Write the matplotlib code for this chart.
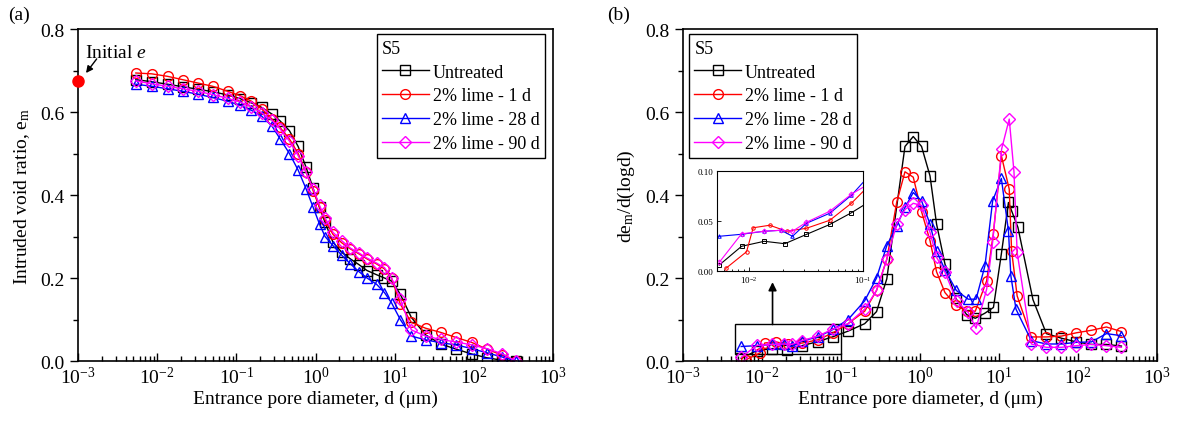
import numpy as np
import matplotlib
matplotlib.use("Agg")
import matplotlib.pyplot as plt
from matplotlib.ticker import LogLocator, MultipleLocator, NullFormatter, FixedLocator, LogFormatterSciNotation
from matplotlib.patches import Rectangle

plt.rcParams['font.family'] = ['Liberation Serif', 'DejaVu Serif']
plt.rcParams['mathtext.fontset'] = 'custom'
plt.rcParams['mathtext.rm'] = 'Liberation Serif'
plt.rcParams['mathtext.it'] = 'Liberation Serif:italic'
plt.rcParams['font.size'] = 14

labels = ['Untreated', '2% lime - 1 d', '2% lime - 28 d', '2% lime - 90 d']
colors = ['black', 'red', 'blue', 'magenta']
markers = ['s', 'o', '^', 'D']

# ---- (a) intruded void ratio ----
d_a = [0.00537, 0.00851, 0.01349, 0.02089, 0.03236, 0.05012, 0.07762, 0.1122, 0.1549,
       0.2089, 0.2818, 0.3548, 0.4677, 0.6026, 0.7586, 0.9333, 1.122, 1.318, 1.660,
       2.138, 2.754, 3.548, 4.467, 5.888, 7.413, 9.120, 11.75, 16.22, 24.55, 38.02,
       58.88, 93.33, 144.5, 223.9, 338.8]
em_untreated = [0.678, 0.673, 0.667, 0.661, 0.655, 0.649, 0.641, 0.632, 0.622, 0.611,
                0.595, 0.579, 0.555, 0.517, 0.467, 0.416, 0.370, 0.334, 0.286, 0.262,
                0.246, 0.232, 0.218, 0.208, 0.200, 0.193, 0.161, 0.105, 0.063, 0.041,
                0.029, 0.017, 0.008, 0.002, 0.0]
em_1d = [0.694, 0.692, 0.686, 0.678, 0.670, 0.662, 0.650, 0.639, 0.626, 0.607, 0.583,
         0.563, 0.535, 0.500, 0.455, 0.410, 0.370, 0.340, 0.305, 0.285, 0.270, 0.258,
         0.246, 0.234, 0.222, 0.200, 0.137, 0.093, 0.079, 0.069, 0.057, 0.045, 0.029,
         0.0145, 0.0]
em_28d = [0.667, 0.662, 0.656, 0.650, 0.643, 0.635, 0.626, 0.616, 0.604, 0.590, 0.566,
          0.536, 0.500, 0.460, 0.415, 0.370, 0.330, 0.300, 0.278, 0.255, 0.234, 0.215,
          0.200, 0.185, 0.165, 0.140, 0.100, 0.060, 0.051, 0.044, 0.039, 0.030, 0.020,
          0.010, 0.0]
em_90d = [0.675, 0.668, 0.662, 0.656, 0.650, 0.642, 0.633, 0.624, 0.612, 0.598, 0.580,
          0.560, 0.530, 0.495, 0.455, 0.415, 0.375, 0.345, 0.310, 0.290, 0.272, 0.260,
          0.248, 0.236, 0.225, 0.200, 0.150, 0.075, 0.060, 0.052, 0.046, 0.039, 0.030,
          0.018, 0.0]
initial_e = 0.675

# ---- (b) pore size distribution ----
d_b_untreated = [0.00546, 0.00857, 0.01355, 0.02056, 0.03184, 0.05105, 0.07907, 0.1230,
                 0.1995, 0.2818, 0.3802, 0.6457, 0.8222, 1.047, 1.340, 1.622, 2.070,
                 2.818, 3.890, 5.012, 6.607, 8.511, 10.72, 13.18, 14.45, 17.38, 26.92,
                 39.81, 61.66, 95.50, 147.9, 229.1, 354.8]
psd_untreated = [0.0063, 0.025, 0.030, 0.0276, 0.0369, 0.0468, 0.0585, 0.072, 0.090,
                 0.119, 0.198, 0.517, 0.541, 0.517, 0.446, 0.330, 0.234, 0.152, 0.112,
                 0.103, 0.115, 0.129, 0.258, 0.382, 0.362, 0.322, 0.148, 0.066, 0.055,
                 0.046, 0.040, 0.040, 0.036]
d_b_1d = [0.00624, 0.00948, 0.01084, 0.01514, 0.02138, 0.03184, 0.05105, 0.07907, 0.1230,
          0.1995, 0.2818, 0.3802, 0.5070, 0.6457, 0.8222, 1.047, 1.340, 1.622, 2.070,
          2.818, 3.890, 5.012, 6.982, 8.472, 10.72, 13.49, 14.45, 16.98, 25.70, 39.81,
          61.66, 95.50, 147.9, 229.1, 354.8]
psd_1d = [0.003, 0.0196, 0.0435, 0.046, 0.040, 0.043, 0.051, 0.068, 0.090, 0.120, 0.170,
          0.245, 0.382, 0.456, 0.443, 0.360, 0.290, 0.215, 0.165, 0.135, 0.120, 0.120,
          0.193, 0.306, 0.495, 0.414, 0.266, 0.157, 0.058, 0.058, 0.060, 0.068, 0.074,
          0.082, 0.071]
d_b_28d = [0.00546, 0.00857, 0.01355, 0.01905, 0.02399, 0.03184, 0.05105, 0.07907, 0.1230,
           0.1995, 0.2818, 0.3802, 0.5070, 0.6457, 0.8222, 1.047, 1.340, 1.622, 2.070,
           2.884, 4.074, 5.129, 6.653, 8.318, 10.72, 13.18, 14.13, 16.41, 25.70, 39.81,
           61.66, 95.50, 147.9, 229.1, 354.8]
psd_28d = [0.035, 0.037, 0.040, 0.041, 0.035, 0.048, 0.058, 0.076, 0.100, 0.145, 0.200,
           0.278, 0.326, 0.370, 0.406, 0.386, 0.330, 0.265, 0.220, 0.170, 0.149, 0.149,
           0.230, 0.386, 0.440, 0.314, 0.206, 0.125, 0.049, 0.041, 0.041, 0.045, 0.046,
           0.066, 0.061]
d_b_90d = [0.00546, 0.00857, 0.01355, 0.01905, 0.02399, 0.03184, 0.05105, 0.07907, 0.1230,
           0.1995, 0.2818, 0.3802, 0.5070, 0.6457, 0.8222, 1.047, 1.340, 1.622, 2.070,
           2.911, 4.074, 5.129, 6.982, 8.318, 10.81, 13.49, 15.49, 16.98, 25.70, 39.81,
           61.66, 95.50, 147.9, 229.1, 354.8]
psd_90d = [0.009, 0.0375, 0.040, 0.041, 0.040, 0.049, 0.060, 0.077, 0.090, 0.125, 0.170,
           0.245, 0.330, 0.365, 0.380, 0.375, 0.310, 0.250, 0.214, 0.145, 0.117, 0.079,
           0.173, 0.287, 0.511, 0.583, 0.456, 0.262, 0.041, 0.033, 0.033, 0.037, 0.040,
           0.037, 0.033]

x_major = [1e-3, 1e-2, 1e-1, 1e0, 1e1, 1e2, 1e3]

series_a = [em_untreated, em_1d, em_28d, em_90d]
series_b = [(d_b_untreated, psd_untreated), (d_b_1d, psd_1d),
            (d_b_28d, psd_28d), (d_b_90d, psd_90d)]

msizes = [6.5, 7, 7.5, 6]


def style_axis(ax):
    ax.set_xscale('log')
    ax.set_xlim(1e-3, 1e3)
    ax.set_ylim(0, 0.8)
    ax.xaxis.set_major_locator(FixedLocator(x_major))
    ax.xaxis.set_major_formatter(LogFormatterSciNotation())
    ax.xaxis.set_minor_locator(LogLocator(base=10, subs=np.arange(2, 10), numticks=100))
    ax.xaxis.set_minor_formatter(NullFormatter())
    ax.yaxis.set_major_locator(FixedLocator([0.0, 0.2, 0.4, 0.6, 0.8]))
    ax.yaxis.set_minor_locator(MultipleLocator(0.1))
    ax.tick_params(axis='x', which='both', direction='in', top=False, labelsize=14)
    ax.tick_params(axis='y', which='both', direction='out', right=False, labelsize=14)
    ax.tick_params(which='major', length=6, width=1)
    ax.tick_params(which='minor', length=3.5, width=1)
    for s in ax.spines.values():
        s.set_linewidth(1.2)
    ax.set_xlabel('Entrance pore diameter, d (\u03bcm)', fontsize=14, labelpad=2)


def add_legend(ax, loc, anchor):
    leg = ax.legend(title='S5', loc=loc, bbox_to_anchor=anchor, fontsize=13,
                    title_fontsize=13, alignment='left', frameon=True, fancybox=False,
                    edgecolor='black', framealpha=1, borderpad=0.3, labelspacing=0.38,
                    handlelength=2.6, handletextpad=0.2, borderaxespad=0.2)
    leg.get_frame().set_linewidth(1.0)
    return leg


fig = plt.figure(figsize=(11.79, 4.27), dpi=100)
ax1 = fig.add_axes([0.0662, 0.1522, 0.4029, 0.7775])
ax2 = fig.add_axes([0.5793, 0.1522, 0.402, 0.7775])

# panel a
for y, c, m, lab, ms in zip(series_a, colors, markers, labels, msizes):
    ax1.plot(d_a, y, color=c, marker=m, mfc='none', mec=c, ms=ms, mew=1.0, lw=1.0, label=lab)
ax1.plot([1e-3], [initial_e], 'o', color='red', ms=8, clip_on=False, zorder=6)
ax1.text(0.00123, 0.733, 'Initial $e$', fontsize=14, ha='left', va='baseline')
ax1.annotate('', xy=(0.00126, 0.694), xytext=(0.00172, 0.728),
             arrowprops=dict(arrowstyle='-|>', color='black', lw=1.0,
                             mutation_scale=10, shrinkA=0, shrinkB=0))
style_axis(ax1)
ax1.set_ylabel('Intruded void ratio, e$_\\mathrm{m}$', fontsize=14, labelpad=6)
add_legend(ax1, 'upper right', (0.99, 0.995))

# panel b
for (x, y), c, m, lab, ms in zip(series_b, colors, markers, labels, msizes):
    ax2.plot(x, y, color=c, marker=m, mfc='none', mec=c, ms=ms, mew=1.0, lw=1.0, label=lab)
style_axis(ax2)
ax2.set_ylabel('de$_\\mathrm{m}$/d(logd)', fontsize=14, labelpad=6)
add_legend(ax2, 'upper left', (0.005, 0.995))

ax2.add_patch(Rectangle((0.0046, 0.018), 0.1 - 0.0046, 0.07, fill=False,
                        ec='black', lw=1.0, zorder=1))
ax2.annotate('', xy=(0.0136, 0.19), xytext=(0.0136, 0.088),
             arrowprops=dict(arrowstyle='-|>', color='black', lw=1.2,
                             mutation_scale=12, shrinkA=0, shrinkB=0))

axins = ax2.inset_axes([0.071, 0.27, 0.309, 0.302])
for (x, y), c, m in zip(series_b, colors, markers):
    axins.plot(x, y, color=c, marker=m, mfc='none', mec=c, ms=2.5, mew=0.7, lw=0.8)
axins.set_xscale('log')
axins.set_xlim(0.00518, 0.1)
axins.set_ylim(0, 0.1)
axins.yaxis.set_major_locator(FixedLocator([0.0, 0.05, 0.10]))
axins.set_yticklabels(['0.00', '0.05', '0.10'])
axins.xaxis.set_major_locator(FixedLocator([1e-2, 1e-1]))
axins.xaxis.set_major_formatter(LogFormatterSciNotation())
axins.xaxis.set_minor_locator(LogLocator(base=10, subs=np.arange(2, 10), numticks=100))
axins.xaxis.set_minor_formatter(NullFormatter())
axins.tick_params(which='both', direction='in', labelsize=6.5, top=False, right=False, pad=2)
axins.tick_params(which='major', length=3, width=0.6)
axins.tick_params(which='minor', length=1.5, width=0.6)
for s in axins.spines.values():
    s.set_linewidth(0.8)

fig.text(0.007, 0.965, '(a)', fontsize=14, ha='left', va='center')
fig.text(0.515, 0.965, '(b)', fontsize=14, ha='left', va='center')

fig.savefig('out.png', dpi=100)
